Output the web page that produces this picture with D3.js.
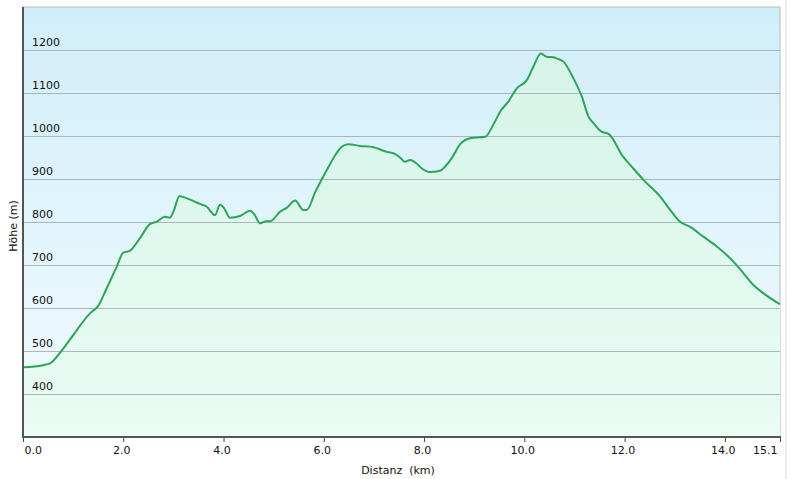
<!DOCTYPE html>
<html>
<head>
<meta charset="utf-8">
<title>Höhenprofil</title>
<script src="https://cdnjs.cloudflare.com/ajax/libs/d3/7.8.5/d3.min.js"></script>
<style>
  body { margin:0; background:#fff; }
  svg { display:block; font-family:"DejaVu Sans", Verdana, sans-serif; }
</style>
</head>
<body>
<svg width="790" height="479"></svg>
<script>
// distance (km) and elevation (m)
var dist = [0, 0.4, 0.54, 0.74, 0.94, 1.34, 1.5, 1.67, 1.87, 2.0, 2.13, 2.33, 2.53, 2.67, 2.83, 2.93, 3.0, 3.12,
  3.27, 3.53, 3.66, 3.83, 3.93, 4.0, 4.13, 4.33, 4.53, 4.6, 4.73, 4.86, 4.93, 5.13, 5.26, 5.43, 5.59, 5.66,
  5.83, 6.06, 6.26, 6.36, 6.49, 6.72, 6.99, 7.16, 7.26, 7.39, 7.52, 7.62, 7.72, 7.85, 7.95, 8.12, 8.32,
  8.42, 8.55, 8.72, 8.92, 9.22, 9.38, 9.52, 9.68, 9.85, 10.05, 10.18, 10.33, 10.45, 10.58, 10.65, 10.78,
  10.98, 11.15, 11.28, 11.38, 11.54, 11.68, 11.97, 12.17, 12.41, 12.71, 12.91, 13.1, 13.3, 13.57, 13.84,
  14.17, 14.37, 14.54, 14.77, 15.07, 15.1];
var elev = [462, 467, 471, 496, 527, 588, 605, 646, 696, 729, 733, 762, 795, 801, 812, 810, 824, 860,
  855, 842, 836, 816, 840, 834, 810, 814, 826, 820, 797, 802, 802, 824, 833, 850, 828, 828,
  870, 921, 961, 975, 981, 977, 974, 967, 963, 960, 950, 940, 944, 936, 925, 916, 919,
  929, 948, 981, 995, 998, 1026, 1057, 1080, 1111, 1130, 1161, 1192, 1184, 1183, 1180, 1173,
  1134, 1091, 1045, 1030, 1010, 1005, 952, 925, 894, 859, 828, 801, 789, 766, 743,
  708, 681, 657, 634, 611, 609];

var yTicks = [400, 500, 600, 700, 800, 900, 1000, 1100, 1200];
var xTicks = [0, 2, 4, 6, 8, 10, 12, 14, 15.1];

var data = dist.map(function(d, i) { return {km: d, m: elev[i]}; });

var pl = 23, pr = 780, pt = 7, pb = 437;
var svg = d3.select("svg");

var x = d3.scaleLinear().domain([0, 15.1]).range([pl, pr]);
var y = d3.scaleLinear().domain([300, 1300]).range([pb, pt]);

var defs = svg.append("defs");
var bg = defs.append("linearGradient").attr("id", "bg").attr("x1", 0).attr("y1", 0).attr("x2", 0).attr("y2", 1);
bg.append("stop").attr("offset", "0%").attr("stop-color", "#d0eefa");
bg.append("stop").attr("offset", "100%").attr("stop-color", "#f3fbfe");
var fill = defs.append("linearGradient").attr("id", "fill").attr("gradientUnits", "userSpaceOnUse")
  .attr("x1", 0).attr("y1", pt).attr("x2", 0).attr("y2", pb);
fill.append("stop").attr("offset", "0%").attr("stop-color", "#d3f3e8");
fill.append("stop").attr("offset", "100%").attr("stop-color", "#eafcf3");

// outer frame line on the right
svg.append("line").attr("x1", 786).attr("x2", 786).attr("y1", 0).attr("y2", 479)
  .style("stroke", "#dcdcdc");

svg.append("rect").attr("x", pl).attr("y", pt).attr("width", pr - pl).attr("height", pb - pt)
  .style("fill", "url(#bg)").style("stroke", "#b4bcc0");

svg.append("path").datum(data)
  .attr("d", d3.area().x(function(d) { return x(d.km); }).y0(pb).y1(function(d) { return y(d.m); })
    .curve(d3.curveMonotoneX))
  .style("fill", "url(#fill)");

svg.selectAll(".grid").data(yTicks).enter().append("line")
  .attr("class", "grid")
  .attr("x1", pl).attr("x2", pr)
  .attr("y1", function(d) { return Math.round(y(d)) + 0.5; })
  .attr("y2", function(d) { return Math.round(y(d)) + 0.5; })
  .style("stroke", "#aab8be").style("stroke-width", "1px");

svg.selectAll(".ylab").data(yTicks).enter().append("text")
  .attr("x", 32).attr("y", function(d) { return y(d) - 4; })
  .style("font-size", "11px").style("fill", "#111")
  .text(function(d) { return d; });

svg.append("path").datum(data)
  .attr("d", d3.line().x(function(d) { return x(d.km); }).y(function(d) { return y(d.m); })
    .curve(d3.curveMonotoneX))
  .style("fill", "none").style("stroke", "#2ea556").style("stroke-width", "2px");

// x axis
var xAxis = svg.append("g").attr("transform", "translate(0," + pb + ")")
  .call(d3.axisBottom(x).tickValues(xTicks).tickSize(5).tickPadding(4)
    .tickFormat(d3.format(".1f")));
xAxis.select(".domain").remove();
xAxis.selectAll("line").style("stroke", "#444");
xAxis.selectAll("text").style("font-size", "11px").style("fill", "#111")
  .style("font-family", "DejaVu Sans, Verdana, sans-serif")
  .attr("text-anchor", function(d, i) { return i == 0 ? "start" : (i == xTicks.length - 1 ? "end" : "middle"); })
  .attr("dx", function(d, i) { return i == 0 ? 1 : (i == xTicks.length - 1 ? -3 : -2); });

svg.append("line").attr("x1", pl).attr("x2", pr + 1).attr("y1", pb).attr("y2", pb)
  .style("stroke", "#555").style("stroke-width", "2px");
svg.append("line").attr("x1", pl).attr("x2", pl).attr("y1", pt).attr("y2", pb + 1)
  .style("stroke", "#555").style("stroke-width", "2px");

svg.append("text").attr("x", 398).attr("y", 474).attr("text-anchor", "middle")
  .style("font-size", "11px").style("fill", "#111").attr("xml:space", "preserve")
  .text("Distanz  (km)");

svg.append("text").attr("transform", "translate(17,226) rotate(-90)").attr("text-anchor", "middle")
  .style("font-size", "11px").style("fill", "#111")
  .text("Höhe (m)");
</script>
</body>
</html>
